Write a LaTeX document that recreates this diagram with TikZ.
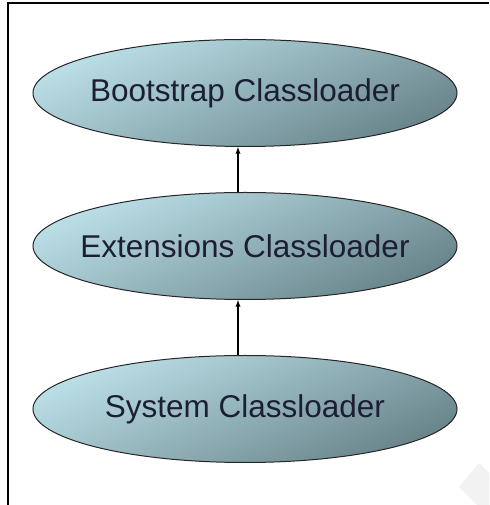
\documentclass[tikz,border=0pt]{standalone}
\usepackage{fontspec}
\setmainfont{Liberation Sans}
\usetikzlibrary{shapes.geometric}

\definecolor{lighttop}{RGB}{188,224,232}
\definecolor{darkbot}{RGB}{104,132,138}
\definecolor{loadertext}{RGB}{28,30,52}

\tikzset{
  loader/.style={ellipse,draw=black!85,line width=1pt,
    top color=lighttop,bottom color=darkbot,shading angle=25,
    minimum width=424pt,minimum height=107pt,inner xsep=-45pt,inner ysep=0pt,
    text=loadertext,font=\fontsize{31.5}{34}\selectfont},
  parent/.style={->,>=latex,line width=1.3pt}
}

\begin{document}
\begin{tikzpicture}[x=1pt,y=1pt]
\useasboundingbox (0,0) rectangle (489,505);

% frame
\draw[line width=1.5pt] (8,0) -- (8,502) -- (489,502);
\fill[black!5] (479,42) -- (459,18) -- (477,0) -- (489,0) -- (489,32) -- cycle;

\node[loader] (boot) at (245,412) {Bootstrap Classloader};
\node[loader] (ext)  at (245,259) {Extensions Classloader};
\node[loader] (sys)  at (245,96)  {System Classloader};

\draw[parent] ([xshift=-7pt]ext.north) -- ([xshift=-7pt]boot.south);
\draw[parent] ([xshift=-7pt]sys.north) -- ([xshift=-7pt]ext.south);
\end{tikzpicture}
\end{document}
